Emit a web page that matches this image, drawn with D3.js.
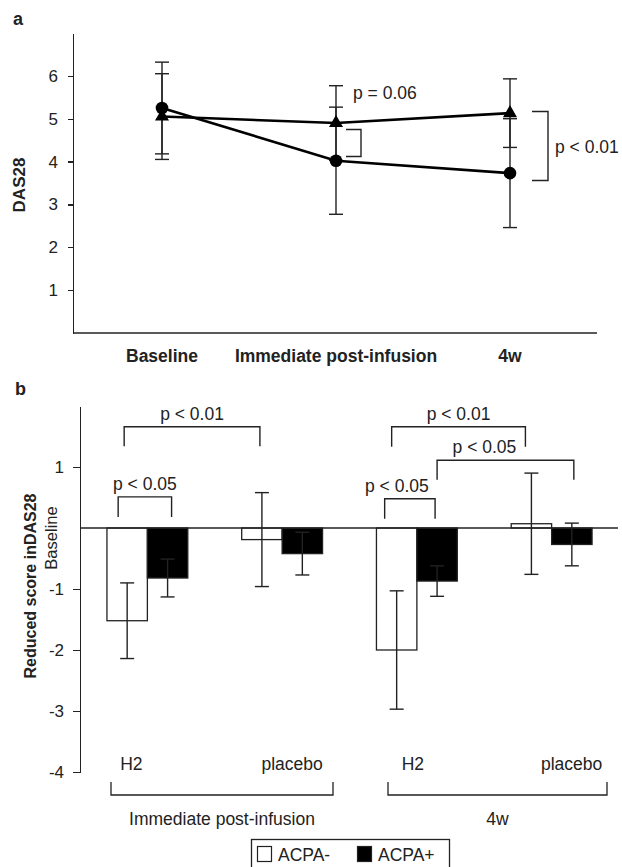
<!DOCTYPE html>
<html lang="en">
  <head>
    <meta charset="UTF-8">
    <script src="https://cdn.jsdelivr.net/npm/d3@7"></script>
    <style>
      body { margin: 0; background: #fff; }
      svg text { font-family: 'Liberation Sans', Arial, sans-serif; fill: #222; }
      .axis path, .axis line { stroke: #222; stroke-width: 1.4; shape-rendering: crispEdges; }
    </style>
  </head>
  <body>
    <script>
      // Panel a: DAS28 over time (two series, mean +/- sd)
      let timePoints = ['Baseline', 'Immediate post-infusion', '4w'];
      let triMean = [5.05, 4.9, 5.13];
      let triErr  = [1.0, 0.87, 0.8];
      let cirMean = [5.25, 4.02, 3.73];
      let cirErr  = [1.07, 1.25, 1.27];
      let aTicks = [1, 2, 3, 4, 5, 6];

      // Panel b: reduced score in DAS28
      let groups = ['imm-H2', 'imm-placebo', '4w-H2', '4w-placebo'];
      let groupLabels = ['H2', 'placebo', 'H2', 'placebo'];
      let acpaNeg    = [-1.52, -0.19, -2.0, 0.07];
      let acpaNegErr = [0.62, 0.77, 0.97, 0.83];
      let acpaPos    = [-0.82, -0.42, -0.87, -0.27];
      let acpaPosErr = [0.31, 0.35, 0.25, 0.35];
      let bTicks = [-4, -3, -2, -1, 1];
      let periods = ['Immediate post-infusion', '4w'];
      let legendKeys = ['ACPA-', 'ACPA+'];

      let svg = d3.select('body').append('svg')
                  .attr('width', 622).attr('height', 867);

      function styleTicks(g) {
        g.selectAll('text').attr('font-size', 17).attr('font-family', 'Liberation Sans, Arial, sans-serif')
         .style('fill', '#222');
      }

      /* ---------- panel a ---------- */
      let xA = d3.scalePoint().domain(timePoints).range([162, 510]);
      let yA = d3.scaleLinear().domain([0, 7]).range([333, 33]);

      svg.append('text').text('a').attr('x', 13).attr('y', 25)
         .attr('font-size', 18).attr('font-weight', 'bold');

      svg.append('g').attr('class', 'axis')
         .attr('transform', 'translate(73,0)')
         .call(d3.axisLeft(yA).tickValues(aTicks).tickSize(5).tickPadding(10).tickSizeOuter(0)
               .tickFormat(d => String(d)))
         .call(styleTicks);
      svg.append('line').attr('x1', 73).attr('x2', 597).attr('y1', 333).attr('y2', 333)
         .attr('stroke', '#222').attr('stroke-width', 1.4);

      svg.selectAll('.tlab').data(timePoints).enter().append('text')
         .attr('x', d => xA(d)).attr('y', 362)
         .attr('text-anchor', 'middle').attr('font-size', 17.5).attr('font-weight', 'bold')
         .text(d => d);

      svg.append('text').text('DAS28')
         .attr('transform', 'translate(25,185) rotate(-90)')
         .attr('text-anchor', 'middle').attr('font-size', 17).attr('font-weight', 'bold');

      function errBars(means, errs) {
        let g = svg.append('g');
        timePoints.forEach((t, i) => {
          let x = xA(t);
          g.append('line').attr('x1', x).attr('x2', x)
           .attr('y1', yA(means[i] + errs[i])).attr('y2', yA(means[i] - errs[i]))
           .attr('stroke', '#222').attr('stroke-width', 1.4);
          [means[i] + errs[i], means[i] - errs[i]].forEach(v => {
            g.append('line').attr('x1', x - 7).attr('x2', x + 7)
             .attr('y1', yA(v)).attr('y2', yA(v))
             .attr('stroke', '#222').attr('stroke-width', 1.4);
          });
        });
      }
      errBars(cirMean, cirErr);
      errBars(triMean, triErr);

      let line = d3.line().x((d, i) => xA(timePoints[i])).y(d => yA(d));
      svg.append('path').datum(triMean).attr('d', line)
         .attr('fill', 'none').attr('stroke', '#000').attr('stroke-width', 2.6);
      svg.append('path').datum(cirMean).attr('d', line)
         .attr('fill', 'none').attr('stroke', '#000').attr('stroke-width', 2.6);

      svg.selectAll('.tri').data(triMean).enter().append('path')
         .attr('d', d3.symbol().type(d3.symbolTriangle).size(85))
         .attr('transform', (d, i) => 'translate(' + xA(timePoints[i]) + ',' + yA(d) + ')')
         .attr('fill', '#000');
      svg.selectAll('.cir').data(cirMean).enter().append('circle')
         .attr('cx', (d, i) => xA(timePoints[i])).attr('cy', d => yA(d)).attr('r', 6.3)
         .attr('fill', '#000');

      // significance brackets, panel a
      let br = svg.append('g').attr('fill', 'none').attr('stroke', '#222').attr('stroke-width', 1.4);
      let xi = xA(timePoints[1]);
      br.append('path').attr('d', `M${xi + 10},${yA(4.75)}H${xi + 25}V${yA(4.12)}H${xi + 10}`);
      svg.append('text').text('p = 0.06').attr('x', xi + 17).attr('y', 99).attr('font-size', 17.5);
      let x4 = xA(timePoints[2]);
      br.append('path').attr('d', `M${x4 + 22},${yA(5.17)}H${x4 + 38}V${yA(3.56)}H${x4 + 22}`);
      svg.append('text').text('p < 0.01').attr('x', x4 + 45).attr('y', 153).attr('font-size', 17.5);

      /* ---------- panel b ---------- */
      let xB = d3.scaleBand().domain(groups).range([80, 619]).paddingInner(0.4).paddingOuter(0.2);
      let sub = d3.scaleBand().domain(['neg', 'pos']).range([0, xB.bandwidth()]);
      let yB = d3.scaleLinear().domain([-4, 2]).range([772, 406]);

      svg.append('text').text('b').attr('x', 15).attr('y', 395)
         .attr('font-size', 18).attr('font-weight', 'bold');

      svg.append('g').attr('class', 'axis')
         .attr('transform', 'translate(80,0)')
         .call(d3.axisLeft(yB).tickValues(bTicks).tickSize(7).tickPadding(9).tickSizeOuter(0)
               .tickFormat(d => String(d)))
         .call(styleTicks);

      svg.append('text').text('Reduced score inDAS28')
         .attr('transform', 'translate(36,586) rotate(-90)')
         .attr('text-anchor', 'middle').attr('font-size', 16).attr('font-weight', 'bold');
      svg.append('text').text('Baseline')
         .attr('transform', 'translate(57,' + (yB(0) + 10) + ') rotate(-90)')
         .attr('text-anchor', 'middle').attr('font-size', 16.5);

      function bars(vals, errs, key, fill) {
        let g = svg.append('g');
        groups.forEach((gName, i) => {
          let x0 = xB(gName) + sub(key);
          let v = vals[i];
          g.append('rect').attr('x', x0).attr('width', sub.bandwidth())
           .attr('y', yB(Math.max(0, v))).attr('height', Math.abs(yB(v) - yB(0)))
           .attr('fill', fill).attr('stroke', '#222').attr('stroke-width', 1.3);
          let cx = x0 + sub.bandwidth() / 2;
          g.append('line').attr('x1', cx).attr('x2', cx)
           .attr('y1', yB(v + errs[i])).attr('y2', yB(v - errs[i]))
           .attr('stroke', '#222').attr('stroke-width', 1.4);
          [v + errs[i], v - errs[i]].forEach(e => {
            g.append('line').attr('x1', cx - 7).attr('x2', cx + 7)
             .attr('y1', yB(e)).attr('y2', yB(e))
             .attr('stroke', '#222').attr('stroke-width', 1.4);
          });
        });
      }
      bars(acpaNeg, acpaNegErr, 'neg', '#fff');
      bars(acpaPos, acpaPosErr, 'pos', '#000');

      svg.append('line').attr('x1', 80).attr('x2', 618).attr('y1', yB(0)).attr('y2', yB(0))
         .attr('stroke', '#222').attr('stroke-width', 1.4);

      // brackets panel b: [x1, x2, topValue, legValue, label, labelShift]
      let cN = i => xB(groups[i]) + sub('neg') + sub.bandwidth() / 2;
      let cP = i => xB(groups[i]) + sub('pos') + sub.bandwidth() / 2;
      let bBrackets = [
        [cN(0) - 9, cP(0) + 4, 0.51, 0.18, 'p < 0.05', 0],
        [cN(0) - 3, cN(1) - 2, 1.66, 1.34, 'p < 0.01', 0],
        [cN(2) - 12, cP(2) - 2, 0.48, 0.15, 'p < 0.05', -13],
        [cN(2) - 5, cN(3) - 6, 1.66, 1.33, 'p < 0.01', 0],
        [cP(2), cP(3) + 2, 1.11, 0.79, 'p < 0.05', -21]
      ];
      let bg = svg.append('g').attr('fill', 'none').attr('stroke', '#222').attr('stroke-width', 1.4);
      bBrackets.forEach(b => {
        bg.append('path').attr('d', `M${b[0]},${yB(b[3])}V${yB(b[2])}H${b[1]}V${yB(b[3])}`);
        svg.append('text').text(b[4]).attr('x', (b[0] + b[1]) / 2 + b[5]).attr('y', yB(b[2]) - 7)
           .attr('text-anchor', 'middle').attr('font-size', 17.5);
      });

      // group labels below bars
      let labelShift = [-16, 10, -4, 20];
      svg.selectAll('.glab').data(groupLabels).enter().append('text')
         .attr('x', (d, i) => xB(groups[i]) + xB.bandwidth() / 2 + labelShift[i])
         .attr('y', 770).attr('text-anchor', 'middle').attr('font-size', 17.5)
         .text(d => d);

      let pg = svg.append('g').attr('fill', 'none').attr('stroke', '#222').attr('stroke-width', 1.3);
      let spans = [[111, 333], [388, 607]];
      periods.forEach((p, i) => {
        let s = spans[i];
        pg.append('path').attr('d', `M${s[0]},782V795H${s[1]}V782`);
        svg.append('text').text(p).attr('x', (s[0] + s[1]) / 2).attr('y', 825)
           .attr('text-anchor', 'middle').attr('font-size', 17.5);
      });

      // legend
      let lg = svg.append('g');
      lg.append('rect').attr('x', 251.5).attr('y', 839.5).attr('width', 198).attr('height', 34)
        .attr('fill', '#fff').attr('stroke', '#222').attr('stroke-width', 1.3);
      let legX = [257, 357];
      legendKeys.forEach((k, i) => {
        lg.append('rect').attr('x', legX[i] + 0.5).attr('y', 846.5).attr('width', 14).attr('height', 15)
          .attr('fill', i === 0 ? '#fff' : '#000').attr('stroke', '#222').attr('stroke-width', 1.2);
        lg.append('text').text(k).attr('x', legX[i] + 21).attr('y', 861).attr('font-size', 17.5);
      });
    </script>
  </body>
</html>
